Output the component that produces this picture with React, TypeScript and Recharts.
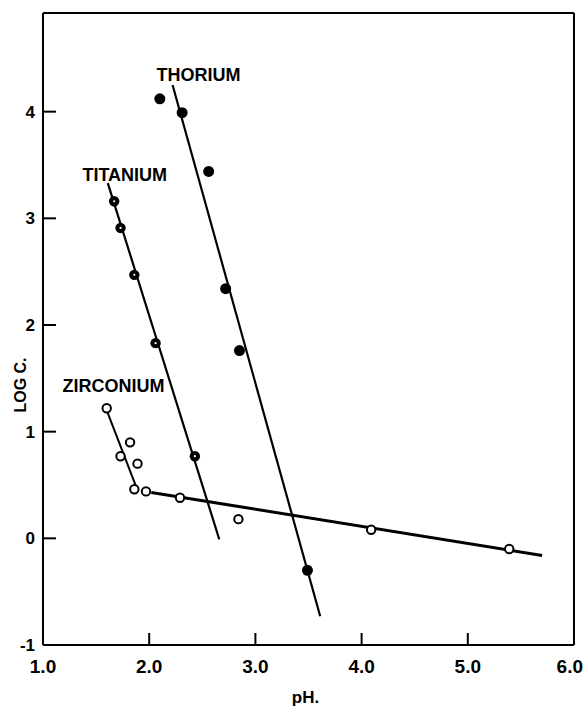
import React from 'react';
import { ComposedChart, Scatter, XAxis, YAxis, Label, ReferenceLine } from 'recharts';

// Measured points
const thoriumPH = [2.1, 2.31, 2.56, 2.72, 2.85, 3.49];
const thoriumLogC = [4.12, 3.99, 3.44, 2.34, 1.76, -0.3];
const titaniumPH = [1.67, 1.73, 1.86, 2.06, 2.43];
const titaniumLogC = [3.16, 2.91, 2.47, 1.83, 0.77];
const zirconiumPH = [1.6, 1.82, 1.73, 1.89, 1.86, 1.97, 2.29, 2.84, 4.09, 5.39];
const zirconiumLogC = [1.22, 0.9, 0.77, 0.7, 0.46, 0.44, 0.38, 0.18, 0.08, -0.1];

// Drawn fit lines
const thoriumFitPH = [2.22, 3.61];
const thoriumFitLogC = [4.25, -0.73];
const titaniumFitPH = [1.61, 2.66];
const titaniumFitLogC = [3.33, -0.01];
const zirconiumSteepFitPH = [1.6, 1.875];
const zirconiumSteepFitLogC = [1.2, 0.49];
const zirconiumFlatFitPH = [2.02, 5.7];
const zirconiumFlatFitLogC = [0.43, -0.16];

// Series name labels
const labelNames = ['THORIUM', 'TITANIUM', 'ZIRCONIUM'];
const labelPH = [2.069, 1.371, 1.183];
const labelLogC = [4.29, 3.35, 1.374];

const xTicks = [1, 2, 3, 4, 5, 6];
const yTicks = [-1, 0, 1, 2, 3, 4];
const xDomain: [number, number] = [1, 6];
const yDomain: [number, number] = [-1, 4.925];

const FONT = '"Liberation Sans", Arial, sans-serif';

const toRows = (xs: number[], ys: number[]) => xs.map((x, i) => ({ x, y: ys[i] }));

const thoriumData = toRows(thoriumPH, thoriumLogC);
const titaniumData = toRows(titaniumPH, titaniumLogC);
const zirconiumData = toRows(zirconiumPH, zirconiumLogC);
const thoriumFit = toRows(thoriumFitPH, thoriumFitLogC);
const titaniumFit = toRows(titaniumFitPH, titaniumFitLogC);
const zirconiumSteepFit = toRows(zirconiumSteepFitPH, zirconiumSteepFitLogC);
const zirconiumFlatFit = toRows(zirconiumFlatFitPH, zirconiumFlatFitLogC);
const labelData = labelNames.map((name, i) => ({ x: labelPH[i], y: labelLogC[i], name }));

const NoShape = () => <g />;

const ThoriumDot = (p: any) => <circle cx={p.cx} cy={p.cy} r={5.5} fill="#000" />;
const TitaniumDot = (p: any) => (
  <g>
    <circle cx={p.cx} cy={p.cy} r={5.2} fill="#000" />
    <circle cx={p.cx} cy={p.cy} r={1.1} fill="#fff" />
  </g>
);
const ZirconiumDot = (p: any) => (
  <circle cx={p.cx} cy={p.cy} r={4.2} fill="#fff" stroke="#000" strokeWidth={2} />
);
const NameLabel = (p: any) => (
  <text x={p.cx} y={p.cy} textAnchor="start" fontSize={18} fontWeight="bold" fontFamily={FONT} fill="#000">
    {p.payload.name}
  </text>
);

const XTick = (p: any) => {
  const { x, y, payload } = p;
  const v = payload.value as number;
  const isLast = v === xTicks[xTicks.length - 1];
  return (
    <g>
      {v > 1 && <line x1={x} x2={x} y1={y} y2={y - 12} stroke="#000" strokeWidth={2} />}
      <text
        x={isLast ? x + 9 : x}
        y={y + 28}
        textAnchor={isLast ? 'end' : 'middle'}
        fontSize={19}
        fontWeight="bold"
        fontFamily={FONT}
        fill="#000"
      >
        {v.toFixed(1)}
      </text>
    </g>
  );
};

const YTick = (p: any) => {
  const { x, y, payload } = p;
  const v = payload.value as number;
  return (
    <g>
      {v > -1 && <line x1={x} x2={x + 13} y1={y} y2={y} stroke="#000" strokeWidth={2} />}
      <text x={x - 8} y={y + 6} textAnchor="end" fontSize={17} fontWeight="bold" fontFamily={FONT} fill="#000">
        {String(v)}
      </text>
    </g>
  );
};

export default function App() {
  return (
    <div style={{ position: 'absolute', left: 0, top: 0, background: '#fff' }}>
      <ComposedChart width={584} height={709} margin={{ top: 13, right: 10, left: 0, bottom: 0 }}>
        <XAxis
          type="number"
          dataKey="x"
          domain={xDomain}
          ticks={xTicks}
          allowDataOverflow
          height={64}
          tickSize={0}
          tickMargin={0}
          tickLine={false}
          tick={<XTick />}
          axisLine={{ stroke: '#000', strokeWidth: 2 }}
        >
          <Label
            content={(props: any) => {
              const vb = props.viewBox || {};
              const cx = (vb.x || 0) + (vb.width || 0) / 2;
              return (
                <text x={cx - 3} y={703} textAnchor="middle" fontSize={17} fontWeight="bold" fontFamily={FONT} fill="#000">
                  pH.
                </text>
              );
            }}
          />
        </XAxis>
        <YAxis
          type="number"
          dataKey="y"
          domain={yDomain}
          ticks={yTicks}
          allowDataOverflow
          width={43}
          tickSize={0}
          tickMargin={0}
          tickLine={false}
          tick={<YTick />}
          axisLine={{ stroke: '#000', strokeWidth: 2 }}
        >
          <Label
            content={() => (
              <text
                x={20}
                y={385}
                transform="rotate(-90 20 385)"
                textAnchor="middle"
                dominantBaseline="central"
                fontSize={16}
                fontWeight="bold"
                fontFamily={FONT}
                fill="#000"
              >
                LOG C.
              </text>
            )}
          />
        </YAxis>
        <ReferenceLine y={yDomain[1]} stroke="#000" strokeWidth={2} />
        <ReferenceLine x={xDomain[1]} stroke="#000" strokeWidth={2} />

        <Scatter data={thoriumFit} line={{ stroke: '#000', strokeWidth: 2.2 }} shape={NoShape} isAnimationActive={false} />
        <Scatter data={titaniumFit} line={{ stroke: '#000', strokeWidth: 2.2 }} shape={NoShape} isAnimationActive={false} />
        <Scatter data={zirconiumSteepFit} line={{ stroke: '#000', strokeWidth: 2 }} shape={NoShape} isAnimationActive={false} />
        <Scatter data={zirconiumFlatFit} line={{ stroke: '#000', strokeWidth: 3 }} shape={NoShape} isAnimationActive={false} />

        <Scatter data={thoriumData} shape={ThoriumDot} isAnimationActive={false} />
        <Scatter data={titaniumData} shape={TitaniumDot} isAnimationActive={false} />
        <Scatter data={zirconiumData} shape={ZirconiumDot} isAnimationActive={false} />
        <Scatter data={labelData} shape={NameLabel} isAnimationActive={false} />
      </ComposedChart>
    </div>
  );
}
